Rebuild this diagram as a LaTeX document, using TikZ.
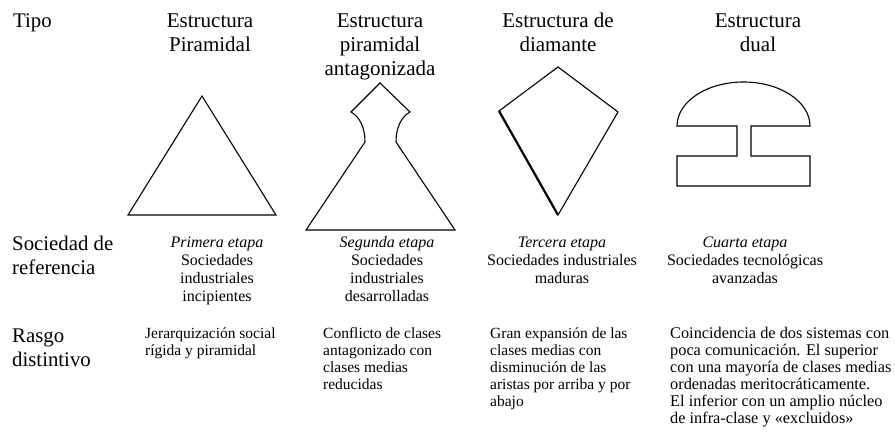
\documentclass[tikz,border=0pt]{standalone}
\usepackage{fontspec}
\setmainfont{Liberation Serif}
\begin{document}
\begin{tikzpicture}[x=1pt,y=-1pt,
  shape line/.style={line width=1.1pt, line join=miter},
  rowhead/.style={anchor=base west, inner sep=0pt, align=left, font=\fontsize{20.8}{24}\selectfont},
  colhead/.style={anchor=base, inner sep=0pt, align=center, font=\fontsize{21}{24}\selectfont},
  stage/.style={anchor=base, inner sep=0pt, align=center, font=\fontsize{16}{18.3}\selectfont},
  trait/.style={anchor=base west, inner sep=0pt, align=left, font=\fontsize{15.5}{17}\selectfont},
  wide trait/.style={trait, font=\fontsize{16.3}{17}\selectfont}]
\useasboundingbox (0,0) rectangle (895,435);
% row headers (anchored at the baseline of the last line)
\node[rowhead] (tipo) at (13,28) {Tipo};
\node[rowhead] (socref) at (12,275) {Sociedad de\\referencia};
\node[rowhead] (rasgo) at (12,367) {Rasgo\\distintivo};
% column headers
\node[colhead] (h1) at (210,52) {Estructura\\Piramidal};
\node[colhead] (h2) at (380,76) {Estructura\\piramidal\\antagonizada};
\node[colhead] (h3) at (558,52) {Estructura de\\diamante};
\node[colhead] (h4) at (758,52) {Estructura\\dual};
% shapes
\draw[shape line] (202,96) -- (276,215) -- (128,215) -- cycle;
\draw[shape line] (380,83) -- (410,112)
  .. controls (401,117) and (396,128) .. (396,142) -- (455,230) -- (306,230) -- (365,142)
  .. controls (365,128) and (360,117) .. (351,112) -- cycle;
\draw[shape line] (558,67) -- (618,112) -- (558,215) -- (499,111) -- cycle;
\draw[line width=2.2pt] (499,111) -- (558,215);
\draw[shape line] (677,126) .. controls (677,101.7) and (706.8,82) .. (743.5,82)
  .. controls (780.2,82) and (810,101.7) .. (810,126) -- (751,126) -- (751,156) -- (810,156)
  -- (810,186) -- (677,186) -- (677,156) -- (737,156) -- (737,126) -- cycle;
% stages
\node[stage] (s1) at (217,302) {\textit{Primera etapa}\\Sociedades\\industriales\\incipientes};
\node[stage] (s2) at (387,302) {\textit{Segunda etapa}\\Sociedades\\industriales\\desarrolladas};
\node[stage] (s3) at (562,284) {\textit{Tercera etapa}\\Sociedades industriales\\maduras};
\node[stage] (s4) at (745,284) {\textit{Cuarta etapa}\\Sociedades tecnológicas\\avanzadas};
% traits
\node[trait] (t1) at (145,356) {Jerarquización social\\rígida y piramidal};
\node[trait] (t2) at (323,390) {Conflicto de clases\\antagonizado con\\clases medias\\reducidas};
\node[trait] (t3) at (490,407) {Gran expansión de las\\clases medias con\\disminución de las\\aristas por arriba y por\\abajo};
\node[wide trait] (t4) at (670,424) {Coincidencia de dos sistemas con\\poca comunicación. El superior\\con una mayoría de clases medias\\ordenadas meritocráticamente.\\El inferior con un amplio núcleo\\de infra-clase y «excluidos»};
\end{tikzpicture}
\end{document}
